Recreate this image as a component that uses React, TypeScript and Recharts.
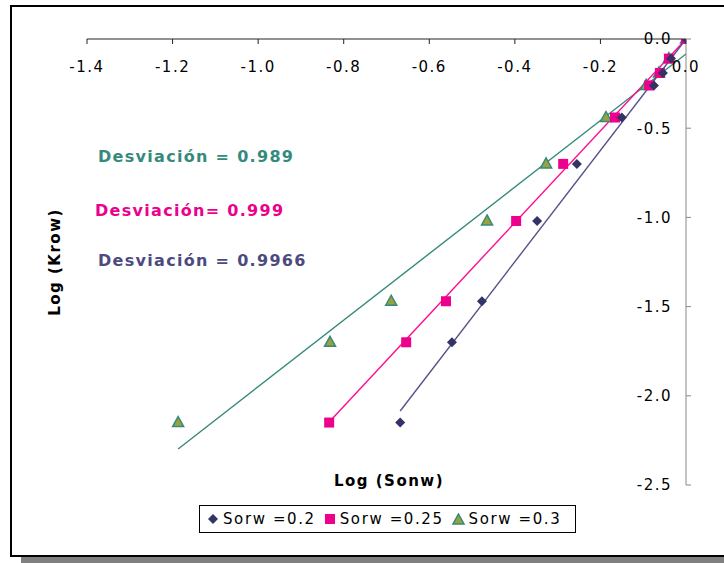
import { ScatterChart, Scatter, XAxis, YAxis } from 'recharts';

// log(Krow) is shared by the three curves
const krow = [0, -0.11, -0.19, -0.26, -0.44, -0.7, -1.02, -1.47, -1.7, -2.15];
const sonw02 = [0, -0.035, -0.054, -0.075, -0.15, -0.255, -0.348, -0.477, -0.547, -0.668];
const sonw025 = [0, -0.04, -0.061, -0.086, -0.166, -0.287, -0.397, -0.561, -0.654, -0.834];
const sonw03 = [0, -0.04, -0.063, -0.093, -0.187, -0.327, -0.465, -0.689, -0.832, -1.187];

// linear trend lines, end points
const trend02X = [-0.668, 0];
const trend02Y = [-2.085, 0];
const trend025X = [-0.834, 0];
const trend025Y = [-2.147, 0];
const trend03X = [-1.187, 0];
const trend03Y = [-2.298, -0.084];

const xTicks = [-1.4, -1.2, -1.0, -0.8, -0.6, -0.4, -0.2, 0];
const yTicks = [0, -0.5, -1.0, -1.5, -2.0, -2.5];

const seriesNames = ['Sorw =0.2', 'Sorw =0.25', 'Sorw =0.3'];
const notes = ['Desviación = 0.989', 'Desviación= 0.999', 'Desviación = 0.9966'];

const NAVY = '#333366';
const PINK = '#ec008c';
const OLIVE = '#9aa23c';
const TEAL = '#358a7c';
const FONT = '"DejaVu Sans", Verdana, sans-serif';

const toPoints = (xs: number[], ys: number[]) => xs.map((x, i) => ({ x, y: ys[i] }));

const Diamond = (p: any) => {
  const { cx, cy } = p;
  return (
    <polygon
      points={`${cx},${cy - 5} ${cx + 5},${cy} ${cx},${cy + 5} ${cx - 5},${cy}`}
      fill={NAVY}
    />
  );
};

const Square = (p: any) => <rect x={p.cx - 5} y={p.cy - 5} width={10} height={10} fill={PINK} />;

const Triangle = (p: any) => {
  const { cx, cy } = p;
  return (
    <polygon
      points={`${cx},${cy - 6} ${cx + 5.5},${cy + 4} ${cx - 5.5},${cy + 4}`}
      fill={OLIVE}
      stroke={TEAL}
      strokeWidth={1.5}
    />
  );
};

const NoDot = () => <g />;

const fmt = (v: number) => (Math.abs(v) < 1e-9 ? '0.0' : v.toFixed(1));

const XTick = (p: any) => (
  <text
    x={p.x}
    y={p.y}
    dy="0.71em"
    textAnchor="middle"
    fontSize={15}
    fontFamily={FONT}
    letterSpacing={1.5}
    fill="#000"
  >
    {fmt(p.payload.value)}
  </text>
);

const YTick = (p: any) => (
  <text
    x={p.x - 19}
    y={p.y}
    dy="0.36em"
    textAnchor="end"
    fontSize={15}
    fontFamily={FONT}
    letterSpacing={1.5}
    fill="#000"
  >
    {fmt(p.payload.value)}
  </text>
);

const legendMarks = [
  <svg width={12} height={12} key="d">
    <polygon points="6,1 11,6 6,11 1,6" fill={NAVY} />
  </svg>,
  <svg width={12} height={12} key="s">
    <rect x={1} y={1} width={10} height={10} fill={PINK} />
  </svg>,
  <svg width={13} height={12} key="t">
    <polygon points="6.5,1 12,11 1,11" fill={OLIVE} stroke={TEAL} strokeWidth={1.5} />
  </svg>,
];

const LegendBox = () => (
  <div
    style={{
      position: 'absolute',
      left: 199,
      top: 505,
      border: '1px solid #000',
      width: 377,
      height: 28,
      boxSizing: 'border-box',
      display: 'flex',
      alignItems: 'center',
      paddingLeft: 7,
      fontFamily: FONT,
      fontSize: 15,
      letterSpacing: 1.6,
      whiteSpace: 'nowrap',
      overflow: 'hidden',
      background: '#fff',
    }}
  >
    {seriesNames.map((n, i) => (
      <span key={n} style={{ display: 'flex', alignItems: 'center', marginRight: 8, flexShrink: 0 }}>
        {legendMarks[i]}
        <span style={{ marginLeft: 4 }}>{n}</span>
      </span>
    ))}
  </div>
);

export default function App() {
  const noteColors = [TEAL, PINK, '#4d4a7e'];
  const noteTops = [146, 200, 250];
  const noteLefts = [98, 95, 98];
  return (
    <div
      style={{
        position: 'fixed',
        left: 0,
        top: 0,
        width: 724,
        height: 563,
        overflow: 'hidden',
        background: '#fff',
      }}
    >
      <div
        style={{
          position: 'absolute',
          left: 10,
          top: 5,
          width: 800,
          height: 548,
          border: '2px solid #000',
        }}
      />
      <div
        style={{ position: 'absolute', left: 21, top: 557, width: 800, height: 10, background: '#808080' }}
      />
      <ScatterChart
        width={724}
        height={563}
        margin={{ top: 39, right: 37, bottom: 78, left: 87 }}
        style={{ position: 'absolute', left: 0, top: 0 }}
      >
        <XAxis
          type="number"
          dataKey="x"
          orientation="top"
          mirror
          domain={[-1.4, 0]}
          ticks={xTicks}
          tickSize={5}
          tickMargin={17}
          stroke="#222"
          tick={<XTick />}
          allowDataOverflow
        />
        <YAxis
          type="number"
          dataKey="y"
          orientation="right"
          width={1}
          domain={[-2.5, 0]}
          ticks={yTicks}
          tickSize={5}
          tickMargin={0}
          stroke="#888"
          tick={<YTick />}
          allowDataOverflow
        />
        <Scatter
          data={toPoints(trend03X, trend03Y)}
          line={{ stroke: TEAL, strokeWidth: 1.4 }}
          shape={NoDot}
          legendType="none"
          isAnimationActive={false}
        />
        <Scatter
          data={toPoints(trend025X, trend025Y)}
          line={{ stroke: '#ff0a90', strokeWidth: 1.4 }}
          shape={NoDot}
          legendType="none"
          isAnimationActive={false}
        />
        <Scatter
          data={toPoints(trend02X, trend02Y)}
          line={{ stroke: '#56528a', strokeWidth: 1.4 }}
          shape={NoDot}
          legendType="none"
          isAnimationActive={false}
        />
        <Scatter name={seriesNames[2]} data={toPoints(sonw03, krow)} shape={Triangle} isAnimationActive={false} />
        <Scatter name={seriesNames[1]} data={toPoints(sonw025, krow)} shape={Square} isAnimationActive={false} />
        <Scatter name={seriesNames[0]} data={toPoints(sonw02, krow)} shape={Diamond} isAnimationActive={false} />
      </ScatterChart>
      <LegendBox />
      <div
        style={{
          position: 'absolute',
          left: 389,
          top: 481,
          transform: 'translate(-50%, -50%)',
          fontFamily: FONT,
          fontWeight: 'bold',
          fontSize: 15,
          letterSpacing: 1.5,
          whiteSpace: 'nowrap',
        }}
      >
        Log (Sonw)
      </div>
      <div
        style={{
          position: 'absolute',
          left: 55,
          top: 262,
          transform: 'translate(-50%, -50%) rotate(-90deg)',
          fontFamily: FONT,
          fontWeight: 'bold',
          fontSize: 15,
          letterSpacing: 1.5,
          whiteSpace: 'nowrap',
        }}
      >
        Log (Krow)
      </div>
      {notes.map((t, i) => (
        <div
          key={t}
          style={{
            position: 'absolute',
            left: noteLefts[i],
            top: noteTops[i],
            color: noteColors[i],
            fontFamily: FONT,
            fontWeight: 'bold',
            fontSize: 16,
            letterSpacing: 1.3,
            lineHeight: '22px',
            whiteSpace: 'nowrap',
          }}
        >
          {t}
        </div>
      ))}
    </div>
  );
}
